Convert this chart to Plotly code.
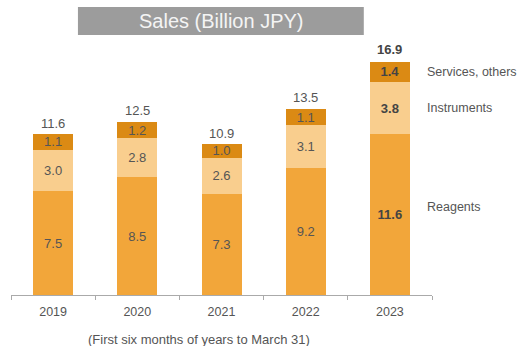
import plotly.graph_objects as go

years = ["2019", "2020", "2021", "2022", "2023"]
reagents = [7.5, 8.5, 7.3, 9.2, 11.6]
instruments = [3.0, 2.8, 2.6, 3.1, 3.8]
services = [1.1, 1.2, 1.0, 1.1, 1.4]
totals = [11.6, 12.5, 10.9, 13.5, 16.9]

series = [
    ("Reagents", reagents, "#F2A63A"),
    ("Instruments", instruments, "#F9CE8E"),
    ("Services, others", services, "#DB8A14"),
]

FONT = "Liberation Sans, Arial, sans-serif"
TXT = "#555555"


def fmt(vals):
    out = []
    for i, v in enumerate(vals):
        s = f"{v:.1f}"
        out.append(f"<b>{s}</b>" if i == len(vals) - 1 else s)
    return out


fig = go.Figure()
for name, vals, color in series:
    fig.add_trace(go.Bar(
        x=years, y=vals, name=name, marker_color=color,
        marker_line_width=0,
        text=fmt(vals), textposition="inside", insidetextanchor="middle",
        constraintext="none",
        textfont=dict(family=FONT, size=13,
                      color=[TXT] * (len(vals) - 1) + ["#444444"]),
        hoverinfo="skip",
    ))

# totals above each stack (category index as x position)
for i, t in enumerate(totals):
    s = f"{t:.1f}"
    fig.add_annotation(
        x=i, y=t, xref="x", yref="y", yshift=11, showarrow=False,
        text=f"<b>{s}</b>" if i == len(totals) - 1 else s,
        font=dict(family=FONT, size=13,
                  color="#444444" if i == len(totals) - 1 else TXT),
    )

# series names to the right of the last stack
label_y = {
    "Services, others": reagents[-1] + instruments[-1] + services[-1] / 2,
    "Instruments": reagents[-1] + instruments[-1] / 2,
    "Reagents": reagents[-1] / 2 + 0.55,
}
for name, yv in label_y.items():
    fig.add_annotation(
        x=0.983, xref="paper", y=yv, yref="y", xanchor="left",
        yanchor="middle", showarrow=False, text=name,
        font=dict(family=FONT, size=12.5, color=TXT),
    )

# title banner
fig.add_shape(type="rect", xref="paper", yref="paper",
              x0=0.159, x1=0.838, y0=1.0196, y1=1.129,
              fillcolor="#9C9C9C", line_width=0, layer="above")
fig.add_annotation(x=0.499, y=1.0745, xref="paper", yref="paper",
                   xanchor="center", yanchor="middle",
                   showarrow=False, text="Sales (Billion JPY)",
                   font=dict(family=FONT, size=20, color="#F4F4F4"))

# footnote
fig.add_annotation(x=0.447, y=-0.176, xref="paper", yref="paper",
                   xanchor="center", yanchor="middle",
                   showarrow=False, text="(First six months of years to March 31)",
                   font=dict(family=FONT, size=13, color=TXT))

fig.update_layout(
    barmode="stack", bargap=0.525,
    width=521, height=346,
    margin=dict(l=11, r=89, t=40, b=51),
    paper_bgcolor="white", plot_bgcolor="white",
    showlegend=False,
    font=dict(family=FONT, color=TXT),
)
fig.update_xaxes(
    type="category", showline=True, linecolor="#AAAAAA", linewidth=1,
    ticks="outside", tickson="boundaries", ticklen=4, tickcolor="#AAAAAA",
    ticklabelstandoff=5,
    tickfont=dict(family=FONT, size=12.5, color=TXT), showgrid=False,
)
fig.update_yaxes(range=[0, 18.41], visible=False, showgrid=False)

fig.write_html("out.html")
